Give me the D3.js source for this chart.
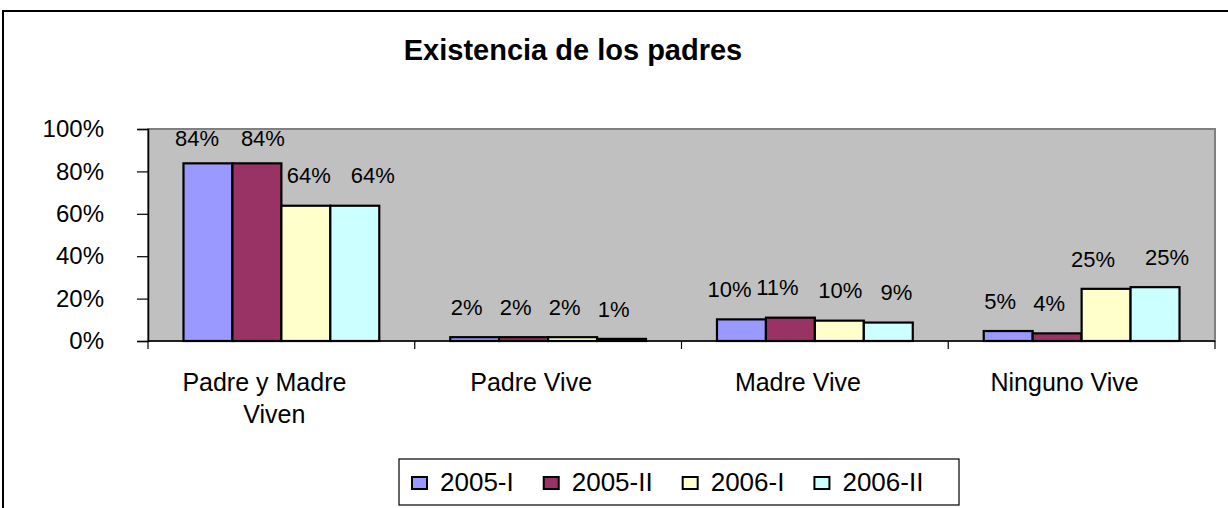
<!DOCTYPE html>
<html>
<head>
<meta charset="utf-8">
<script src="https://cdn.jsdelivr.net/npm/d3@7"></script>
<style>
  body { margin: 0; background: #fff; }
  svg text { font-family: "Liberation Sans", Arial, sans-serif; fill: #000; }
</style>
</head>
<body>
<svg id="chart" width="1228" height="508"></svg>
<script>
// data
var categories = [["Padre y Madre", "Viven"], ["Padre Vive"], ["Madre Vive"], ["Ninguno Vive"]];
var series = ["2005-I", "2005-II", "2006-I", "2006-II"];
var v2005I  = [0.838, 0.018, 0.102, 0.047];
var v2005II = [0.838, 0.018, 0.110, 0.036];
var v2006I  = [0.638, 0.018, 0.096, 0.246];
var v2006II = [0.638, 0.010, 0.087, 0.254];
var yTicks = [0, 0.2, 0.4, 0.6, 0.8, 1];
var colors = ["#9999ff", "#993366", "#ffffcc", "#ccffff"];

var values = [v2005I, v2005II, v2006I, v2006II];

// excel shoves the value labels sideways a bit, px per [category][series]
var labelShift = [[-11, 6, 3, 18], [-8, -8, -8, -8], [-12, -13, 1, 8], [-8, -8, -13, 12]];

var svg = d3.select("#chart");
var width = +svg.attr("width"),
    height = +svg.attr("height");

// outer frame (runs off the right and bottom edge)
svg.append("rect")
    .attr("x", 3).attr("y", 11)
    .attr("width", 1260).attr("height", 540)
    .attr("fill", "#fff")
    .attr("stroke", "#000")
    .attr("stroke-width", 2);

svg.append("text")
    .attr("x", 573).attr("y", 60)
    .attr("text-anchor", "middle")
    .style("font-size", "29px")
    .style("font-weight", "bold")
    .text("Existencia de los padres");

var plot = {left: 148, right: 1215, top: 129, bottom: 341};

var x0 = d3.scaleBand()
    .domain(d3.range(categories.length))
    .range([plot.left, plot.right]);

var x1 = d3.scaleBand()
    .domain(d3.range(series.length))
    .range([0, x0.bandwidth()])
    .paddingOuter(0.725);

var y = d3.scaleLinear()
    .domain([0, 1])
    .range([plot.bottom, plot.top]);

// grey plot area
svg.append("rect")
    .attr("x", plot.left).attr("y", plot.top)
    .attr("width", plot.right - plot.left)
    .attr("height", plot.bottom - plot.top)
    .attr("fill", "#c0c0c0")
    .attr("stroke", "#808080")
    .attr("stroke-width", 2);

// y axis
var yAxis = svg.append("g")
    .attr("transform", "translate(" + plot.left + ",0)")
    .call(d3.axisLeft(y).tickValues(yTicks).tickFormat(d3.format(".0%"))
        .tickSize(11).tickPadding(33));
yAxis.select(".domain").attr("stroke", "#000").attr("stroke-width", 1.5);
yAxis.selectAll(".tick line").attr("stroke", "#000").attr("stroke-width", 1.2);
yAxis.selectAll(".tick text")
    .style("font-size", "24px")
    .attr("font-family", null);

// bars
var groups = svg.append("g").selectAll("g")
    .data(categories)
    .enter().append("g")
    .attr("transform", function(d, i) { return "translate(" + x0(i) + ",0)"; });

function cells(d, i) {
    return values.map(function(s, j) { return {c: i, s: j, v: s[i]}; });
}

groups.selectAll("rect")
    .data(cells)
    .enter().append("rect")
    .attr("x", function(d) { return x1(d.s); })
    .attr("y", function(d) { return y(d.v); })
    .attr("width", x1.bandwidth())
    .attr("height", function(d) { return y(0) - y(d.v); })
    .attr("fill", function(d) { return colors[d.s]; })
    .attr("stroke", "#000")
    .attr("stroke-width", 2.2);

// value labels
groups.selectAll("text")
    .data(cells)
    .enter().append("text")
    .attr("x", function(d) { return x1(d.s) + x1.bandwidth() / 2 + labelShift[d.c][d.s]; })
    .attr("y", function(d) { return Math.max(y(d.v) - 30, plot.top + 9); })
    .attr("dy", "0.35em")
    .attr("text-anchor", "middle")
    .style("font-size", "22px")
    .text(function(d) { return d3.format(".0%")(d.v); });

// x axis line + category ticks
svg.append("line")
    .attr("x1", plot.left).attr("x2", plot.right)
    .attr("y1", plot.bottom).attr("y2", plot.bottom)
    .attr("stroke", "#000").attr("stroke-width", 1.5);

svg.append("g").selectAll("line")
    .data(d3.range(categories.length + 1))
    .enter().append("line")
    .attr("x1", function(i) { return i < categories.length ? x0(i) : plot.right; })
    .attr("x2", function(i) { return i < categories.length ? x0(i) : plot.right; })
    .attr("y1", plot.bottom).attr("y2", plot.bottom + 8)
    .attr("stroke", "#000").attr("stroke-width", 1.2);

var catText = svg.append("g").selectAll("text")
    .data(categories)
    .enter().append("text")
    .attr("x", function(d, i) { return x0(i) + x0.bandwidth() / 2 - 17; })
    .attr("y", 391)
    .attr("text-anchor", "middle")
    .style("font-size", "25px");

catText.selectAll("tspan")
    .data(function(d) { return d; })
    .enter().append("tspan")
    .attr("x", function(d, i) { return +d3.select(this.parentNode).attr("x") + (i ? 10 : 0); })
    .attr("dy", function(d, i) { return i ? 32 : 0; })
    .text(function(d) { return d; });

// legend
var legend = svg.append("g");
legend.append("rect")
    .attr("x", 399).attr("y", 459)
    .attr("width", 560).attr("height", 46)
    .attr("fill", "#fff")
    .attr("stroke", "#000")
    .attr("stroke-width", 1.2);

var lx = 412;
series.forEach(function(name, i) {
    legend.append("rect")
        .attr("x", lx).attr("y", 477)
        .attr("width", 15).attr("height", 12)
        .attr("fill", colors[i])
        .attr("stroke", "#000")
        .attr("stroke-width", 2);
    var t = legend.append("text")
        .attr("x", lx + 28).attr("y", 491)
        .style("font-size", "26px")
        .text(name);
    lx += 28 + t.node().getComputedTextLength() + 30;
});
</script>
</body>
</html>
